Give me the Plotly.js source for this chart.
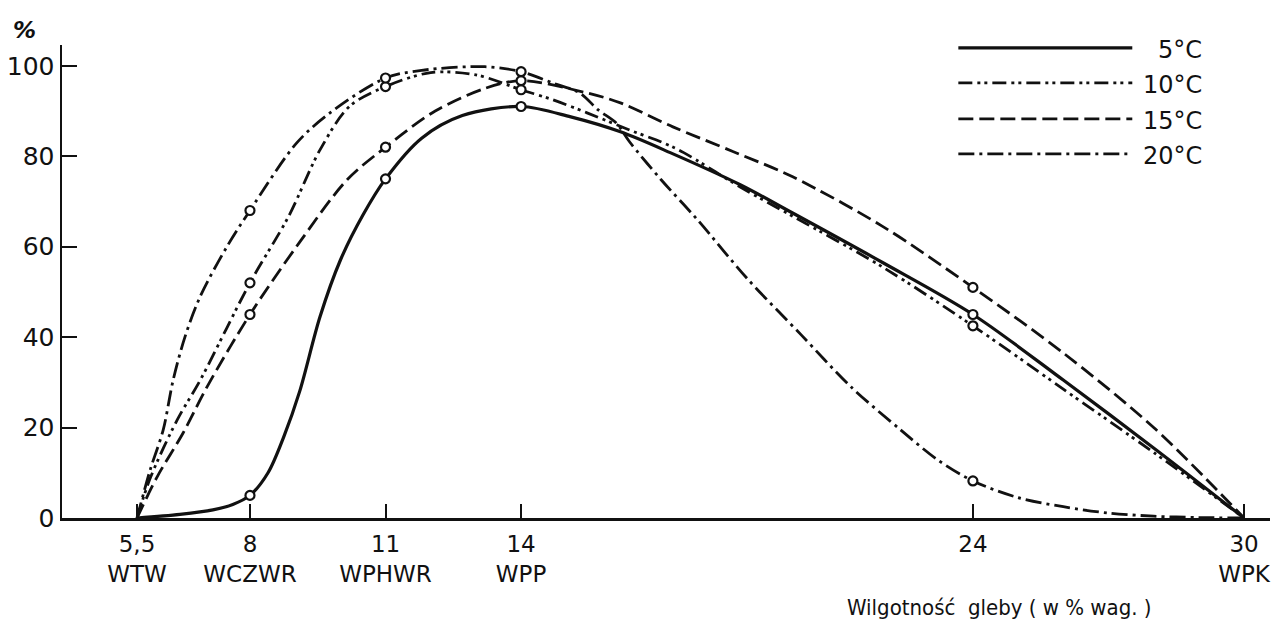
<!DOCTYPE html>
<html>
<head>
<meta charset="utf-8">
<script src="https://cdn.plot.ly/plotly-3.0.1.min.js"></script>
<style>
  html, body { margin: 0; padding: 0; background: #fff; }
  #chart { width: 1283px; height: 631px; }
</style>
</head>
<body>
<div id="chart"></div>
<script>
// ---- data ----
const seriesNames = ["5°C", "10°C", "15°C", "20°C"];

const xTickVals = [5.5, 8, 11, 14, 24, 30];
const xTickText = ["5,5<br>WTW", "8<br>WCZWR", "11<br>WPHWR", "14<br>WPP", "24", "30<br>WPK"];
const yTickVals = [0, 20, 40, 60, 80, 100];

// measured points (open circles)
const pointX = [8, 11, 14, 24];
const points5  = [5, 75, 91, 45];
const points10 = [52, 95.4, 94.7, 42.5];
const points15 = [45, 82, 96.7, 51];
const points20 = [68, 97.3, 98.7, 8.2];

// curves
const curve5X  = [5.5, 6.45, 7.18, 7.62, 8, 8.4, 8.75, 9.1, 9.55, 10, 10.5, 11, 11.8, 12.7, 14, 15.1, 16.2, 17.3, 18.85, 20, 22, 24, 26, 28, 30];
const curve5Y  = [0, 0.8, 1.8, 3, 5, 10, 18, 28, 44.5, 57, 67, 75, 84, 89, 91, 88.7, 85.4, 80.8, 73.7, 67.5, 56.5, 45, 30.5, 15.5, 0];

const curve10X = [5.5, 5.8, 6.39, 6.9, 8, 8.85, 9.55, 10.2, 11, 12, 13, 14, 14.7, 15.46, 16.4, 17.14, 17.6, 18.85, 20, 22, 24, 26, 28, 30];
const curve10Y = [0, 9, 21.7, 30.5, 52, 66.6, 81.4, 91, 95.4, 98.5, 98, 94.7, 92.5, 89.6, 85.8, 83, 80.8, 73.2, 66.8, 55.5, 42.5, 28.5, 14.5, 0];

const curve15X = [5.5, 5.94, 6.52, 7.05, 8, 9.1, 10.15, 11, 12.1, 13.2, 14, 15.46, 16.2, 17.36, 18.7, 20, 22, 24, 26, 28, 30];
const curve15Y = [0, 9, 18.8, 29, 45, 61, 74.8, 82, 90, 95, 96.7, 94, 91.8, 86.5, 81, 75.5, 64.5, 51, 36.5, 20, 0];

const curve20X = [5.5, 5.79, 6.08, 6.3, 6.56, 6.9, 7.49, 8, 9.04, 9.8, 11, 11.8, 13.2, 14, 14.7, 15.3, 15.7, 16.1, 16.4, 17.1, 17.9, 19, 20.2, 21.3, 22.4, 23.2, 24, 25, 26, 27, 28, 29, 30];
const curve20Y = [0, 10.6, 19.5, 30.5, 40, 49, 60, 68, 83, 89.8, 97.3, 99, 99.8, 98.7, 96.2, 94, 90.3, 87.4, 83.2, 74.8, 66, 53, 40.5, 29, 19.5, 13, 8.2, 4.5, 2.5, 1.1, 0.4, 0.1, 0];

// ---- styles ----
const FONT = "DejaVu Sans, Liberation Sans, sans-serif";
const INK = "#111";
const dashes = ["solid", "14px,5px,3px,4px,3px,5px", "15px,6px", "16px,5px,3px,5px"];
const widths = [3.2, 2.8, 2.8, 2.8];

const curvesX = [curve5X, curve10X, curve15X, curve20X];
const curvesY = [curve5Y, curve10Y, curve15Y, curve20Y];
const pointsY = [points5, points10, points15, points20];

const traces = [];
for (let i = 0; i < seriesNames.length; i++) {
  traces.push({
    x: curvesX[i], y: curvesY[i], type: "scatter", mode: "lines",
    name: seriesNames[i], showlegend: false, hoverinfo: "skip",
    line: { color: INK, width: widths[i], dash: dashes[i], shape: "spline", smoothing: 0.9 }
  });
}
for (let i = 0; i < seriesNames.length; i++) {
  traces.push({
    x: pointX, y: pointsY[i], type: "scatter", mode: "markers",
    name: seriesNames[i] + " pomiar", showlegend: false,
    marker: { symbol: "circle", size: 9, color: "#fff", line: { color: INK, width: 2.2 } }
  });
}

// legend drawn as shapes + text (long line samples as in the original)
const legendY = [0.994, 0.920, 0.844, 0.770];
const shapes = [];
const annotations = [];
for (let i = 0; i < seriesNames.length; i++) {
  shapes.push({
    type: "line", xref: "paper", yref: "paper",
    x0: 0.742, x1: 0.886, y0: legendY[i], y1: legendY[i],
    line: { color: INK, width: widths[i], dash: dashes[i] }
  });
  annotations.push({
    xref: "paper", yref: "paper", x: 0.945, y: legendY[i] - 0.004,
    xanchor: "right", yanchor: "middle", showarrow: false,
    text: seriesNames[i], font: { family: FONT, size: 24, color: INK }
  });
}
annotations.push({
  xref: "paper", yref: "paper", x: -0.031, y: 1.0,
  xanchor: "center", yanchor: "bottom", showarrow: false,
  text: "<b><i>%</i></b>", font: { family: FONT, size: 23, color: INK }
});
annotations.push({
  xref: "paper", yref: "paper", x: 0.776, y: -0.19,
  xanchor: "center", yanchor: "middle", showarrow: false,
  text: "Wilgotność  gleby ( w % wag. )",
  font: { family: "DejaVu Sans Condensed, DejaVu Sans, sans-serif", size: 22, color: INK }
});

const layout = {
  width: 1283, height: 631,
  margin: { l: 62, r: 13, t: 45, b: 113, pad: 0 },
  paper_bgcolor: "#fff", plot_bgcolor: "#fff",
  showlegend: false,
  font: { family: FONT, color: INK, size: 22 },
  xaxis: {
    range: [3.84, 30.575], showgrid: false, zeroline: false,
    showline: true, linecolor: INK, linewidth: 2.5,
    ticks: "inside", ticklen: 14, tickwidth: 2, tickcolor: INK,
    tickvals: xTickVals, ticktext: xTickText,
    tickfont: { family: FONT, size: 23, color: INK }, ticklabelstandoff: 4
  },
  yaxis: {
    range: [0, 104.6], showgrid: false, zeroline: false,
    showline: true, linecolor: INK, linewidth: 2.5,
    ticks: "inside", ticklen: 15, tickwidth: 2, tickcolor: INK,
    tickvals: yTickVals, ticktext: yTickVals.map(String),
    tickfont: { family: FONT, size: 25, color: INK }
  },
  shapes: shapes,
  annotations: annotations
};

Plotly.newPlot("chart", traces, layout, { staticPlot: true, displayModeBar: false });
</script>
</body>
</html>
